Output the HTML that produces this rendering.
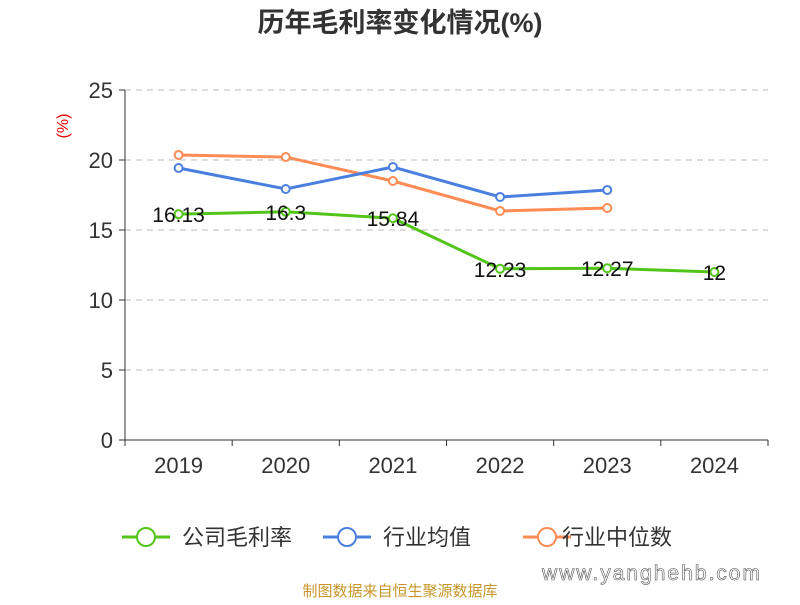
<!DOCTYPE html>
<html><head><meta charset="utf-8"><style>
body{margin:0;background:#fff;}
svg{font-family:"Liberation Sans","Noto Sans CJK SC",sans-serif;}
</style></head><body>
<svg width="800" height="600" id="c">
<text x="400" y="32" text-anchor="middle" font-size="27" font-weight="bold" fill="#333">历年毛利率变化情况(%)</text>
<text transform="translate(68,126) rotate(-90)" text-anchor="middle" font-size="16" fill="#e00">(%)</text>
<g id="grid"></g><g id="axes"></g><g id="series"></g>
<g>
<g><line x1="122" y1="537" x2="170" y2="537" stroke="#52c41a" stroke-width="3"/><circle cx="146" cy="537" r="9" fill="#fff" stroke="#52c41a" stroke-width="2"/><text x="182" y="545" font-size="22" fill="#333">公司毛利率</text></g>
<g><line x1="323" y1="537" x2="371" y2="537" stroke="#4a7fe0" stroke-width="3"/><circle cx="347" cy="537" r="9" fill="#fff" stroke="#4a7fe0" stroke-width="2"/><text x="383" y="545" font-size="22" fill="#333">行业均值</text></g>
<g><line x1="523" y1="537" x2="571" y2="537" stroke="#ff8c55" stroke-width="3"/><circle cx="547" cy="537" r="9" fill="#fff" stroke="#ff8c55" stroke-width="2"/><text x="562" y="545" font-size="22" fill="#333">行业中位数</text></g>
</g>
<text x="400" y="596" text-anchor="middle" font-size="15" fill="#c8952a">制图数据来自恒生聚源数据库</text>
<text x="652" y="580" text-anchor="middle" font-size="21" fill="#fff" stroke="#555" stroke-width="0.6" letter-spacing="2">www.yanghehb.com</text>
</svg>
<script>
const categories=["2019","2020","2021","2022","2023","2024"];
const companyValues=[16.13,16.3,15.84,12.23,12.27,12];
const industryAvg=[19.43,17.93,19.5,17.36,17.86,null];
const industryMedian=[20.36,20.21,18.5,16.36,16.57,null];
const yTicks=[0,5,10,15,20,25];
const NS="http://www.w3.org/2000/svg";
const L=125,R=768,T=90,B=440,yMax=25;
const bw=(R-L)/categories.length;
const xs=i=>L+bw*(i+0.5);
const ys=v=>B-(v/yMax)*(B-T);
function mk(t,a,p){const e=document.createElementNS(NS,t);for(const k in a)e.setAttribute(k,a[k]);p.appendChild(e);return e;}
const g=document.getElementById('grid'),ax=document.getElementById('axes'),se=document.getElementById('series');
yTicks.forEach(v=>{
 if(v>0){const l=mk('line',{x1:L,x2:R,y1:ys(v),y2:ys(v),stroke:'#bbb','stroke-dasharray':'6,5'},g);
 
 }
 mk('line',{x1:L-6,x2:L,y1:ys(v),y2:ys(v),stroke:'#333'},ax);
 const t=mk('text',{x:L-12,y:ys(v)+8,'text-anchor':'end','font-size':22,fill:'#333'},ax);t.textContent=v;
 
 
});
mk('line',{x1:L,x2:L,y1:T,y2:B,stroke:'#333'},ax);
mk('line',{x1:L,x2:R,y1:B,y2:B,stroke:'#333'},ax);
for(let i=0;i<=categories.length;i++)mk('line',{x1:L+bw*i,x2:L+bw*i,y1:B,y2:B+6,stroke:'#333'},ax);
categories.forEach((c,i)=>{const t=mk('text',{x:xs(i),y:B+33,'text-anchor':'middle','font-size':22,fill:'#333'},ax);t.textContent=c;
 
 });
function series(vals,color,name,labels){
 const pts=vals.map((v,i)=>v==null?null:[xs(i),ys(v)]).filter(p=>p);
 const p=mk('polyline',{points:pts.map(p=>p.join(',')).join(' '),fill:'none',stroke:color,'stroke-width':3},se);
 
 
 vals.forEach((v,i)=>{if(v==null)return;
  const c=mk('circle',{cx:xs(i),cy:ys(v),r:4,fill:'#fff',stroke:color,'stroke-width':2},se);
  
  
  if(labels){const t=mk('text',{x:xs(i),y:ys(v)+8,'text-anchor':'middle','font-size':21,fill:'#111'},se);t.textContent=v;
   
   }
 });
}
series(industryMedian,'#ff8c55','industry-median',false);
series(industryAvg,'#4a7fe0','industry-avg',false);
series(companyValues,'#52c41a','company',true);
</script>
</body></html>
